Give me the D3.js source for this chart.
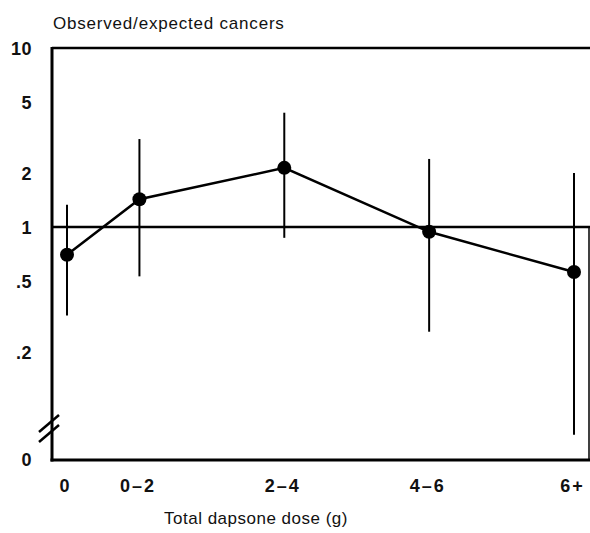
<!DOCTYPE html>
<html lang="en">
<head>
    <meta charset="UTF-8">
    <title>Observed/expected cancers by dapsone dose</title>
    <script src="https://d3js.org/d3.v7.min.js"></script>
    <style>
        body { margin: 0; background: #fff; }
        svg { display: block; }
        .tick-label {
            font: bold 18px "Liberation Sans", Arial, sans-serif;
            fill: #111;
            letter-spacing: 0.5px;
        }
        .x-label { letter-spacing: 2px; }
        .title {
            font: 17px "Liberation Sans", Arial, sans-serif;
            fill: #111;
            letter-spacing: 0.8px;
        }
        .x-title { letter-spacing: 0.5px; }
    </style>
</head>
<body>
    <div id="chart"></div>

    <script>
        // dose groups, placed at the middle of their range
        const doseLabels = ["0", "0\u20132", "2\u20134", "4\u20136", "6+"];
        const doseMid = [0, 1, 3, 5, 7];
        // observed / expected ratio and its confidence interval
        const ratio = [0.70, 1.43, 2.14, 0.94, 0.56];
        const ciLow = [0.32, 0.53, 0.87, 0.26, 0.069];
        const ciHigh = [1.33, 3.1, 4.35, 2.4, 2.0];
        const yTicks = [10, 5, 2, 1, 0.5, 0.2];

        const width = 590;
        const height = 533;

        const svg = d3.select("#chart")
            .append("svg")
            .attr("width", width)
            .attr("height", height);

        const x = d3.scaleLinear().domain([0, 7]).range([67, 574]);
        const y = d3.scaleLog().domain([0.1, 10]).range([406, 48]);
        const left = 52, right = 589, bottom = 460;

        // frame
        svg.append("line")
            .attr("x1", left).attr("x2", left)
            .attr("y1", y(10) - 1).attr("y2", bottom + 1.5)
            .attr("stroke", "#000").attr("stroke-width", 3);
        svg.append("line")
            .attr("x1", left).attr("x2", right + 1)
            .attr("y1", y(10)).attr("y2", y(10))
            .attr("stroke", "#000").attr("stroke-width", 2.5);
        svg.append("line")
            .attr("x1", left - 1.5).attr("x2", right + 1)
            .attr("y1", bottom).attr("y2", bottom)
            .attr("stroke", "#000").attr("stroke-width", 3);
        svg.append("line")
            .attr("x1", right).attr("x2", right)
            .attr("y1", y(1)).attr("y2", bottom)
            .attr("stroke", "#000").attr("stroke-width", 1.5);

        // reference line at 1
        svg.append("line")
            .attr("x1", left).attr("x2", right + 1)
            .attr("y1", y(1)).attr("y2", y(1))
            .attr("stroke", "#000").attr("stroke-width", 2.5);

        // axis break
        [0, 10].forEach(off => {
            svg.append("line")
                .attr("x1", 39).attr("y1", 442 - off)
                .attr("x2", 59).attr("y2", 425 - off)
                .attr("stroke", "#000").attr("stroke-width", 2.5);
        });

        // y axis labels
        const yAxis = d3.axisLeft(y)
            .tickValues(yTicks)
            .tickSize(0)
            .tickPadding(0)
            .tickFormat(d => d >= 1 ? String(d) : String(d).replace(/^0/, ""));
        const gy = svg.append("g")
            .attr("transform", "translate(32,0)")
            .call(yAxis);
        gy.select(".domain").remove();
        gy.selectAll("text").attr("class", "tick-label").attr("dy", "0.35em");
        svg.append("text")
            .attr("class", "tick-label")
            .attr("x", 32).attr("y", bottom)
            .attr("dy", "0.35em")
            .attr("text-anchor", "end")
            .text("0");

        // x axis labels
        const xAxis = d3.axisBottom(x)
            .tickValues(doseMid)
            .tickSize(0)
            .tickPadding(0)
            .tickFormat((d, i) => doseLabels[i]);
        const gx = svg.append("g")
            .attr("transform", `translate(-2,${bottom + 19})`)
            .call(xAxis);
        gx.select(".domain").remove();
        gx.selectAll("text").attr("class", "tick-label x-label").attr("dy", "0.71em");

        // error bars
        svg.selectAll(".ci")
            .data(doseMid)
            .enter().append("line")
            .attr("class", "ci")
            .attr("x1", d => x(d)).attr("x2", d => x(d))
            .attr("y1", (d, i) => y(ciHigh[i]))
            .attr("y2", (d, i) => y(ciLow[i]))
            .attr("stroke", "#000").attr("stroke-width", 2);

        // connecting line
        const line = d3.line()
            .x(d => x(d[0]))
            .y(d => y(d[1]));
        svg.append("path")
            .datum(doseMid.map((d, i) => [d, ratio[i]]))
            .attr("d", line)
            .attr("fill", "none")
            .attr("stroke", "#000")
            .attr("stroke-width", 2.5);

        svg.selectAll(".pt")
            .data(doseMid)
            .enter().append("circle")
            .attr("class", "pt")
            .attr("cx", d => x(d))
            .attr("cy", (d, i) => y(ratio[i]))
            .attr("r", 7)
            .attr("fill", "#000");

        // titles
        svg.append("text")
            .attr("class", "title")
            .attr("x", 53).attr("y", 29)
            .text("Observed/expected cancers");
        svg.append("text")
            .attr("class", "title x-title")
            .attr("x", 256).attr("y", 524)
            .attr("text-anchor", "middle")
            .text("Total dapsone dose (g)");
    </script>
</body>
</html>
